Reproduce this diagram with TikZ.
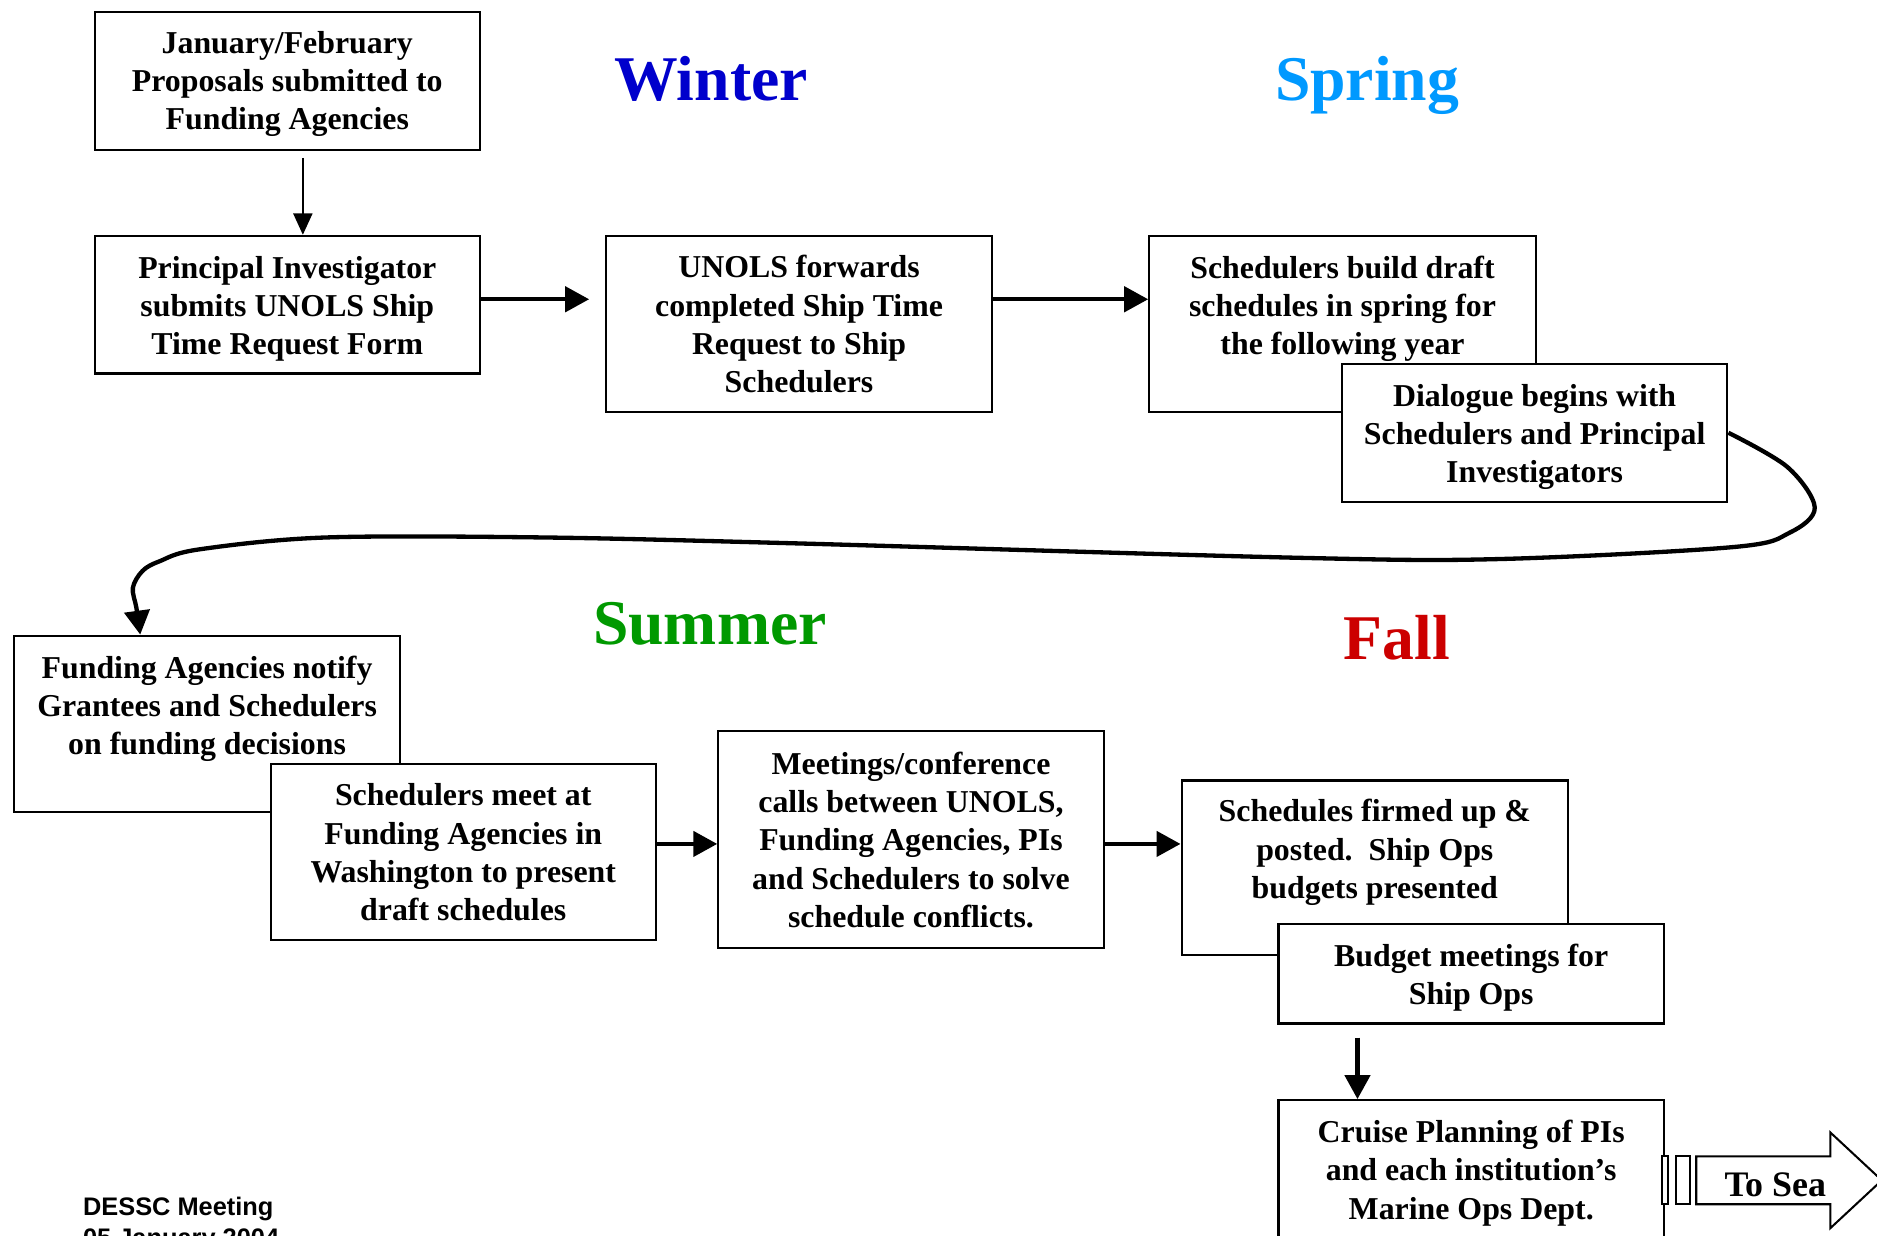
\documentclass[tikz,border=0pt]{standalone}
\usepackage{fontspec}
\setmainfont{Liberation Serif}
\newfontfamily\arialfont{Liberation Sans}
\usetikzlibrary{fit,arrows.meta,calc}
\definecolor{wintercol}{RGB}{0,0,204}
\definecolor{springcol}{RGB}{0,153,255}
\definecolor{summercol}{RGB}{0,153,0}
\definecolor{fallcol}{RGB}{204,0,0}
\begin{document}
\begin{tikzpicture}[x=0.5pt,y=-0.5pt,
  boxnode/.style={draw, line width=0.85pt, fill=white, inner sep=0pt},
  txt/.style={align=center, font=\fontsize{13.3}{16}\selectfont\bfseries, inner sep=0pt},
  season/.style={font=\fontsize{26.6}{30}\selectfont\bfseries, inner sep=0pt, anchor=base},
  flow/.style={line width=1.7pt, -{Triangle[length=10pt,width=10.5pt]}},
  thinflow/.style={line width=0.85pt, -{Triangle[length=9pt,width=8pt]}}]
\useasboundingbox (0,0) rectangle (1568,1031.7);
\fill[white] (0,0) rectangle (1568,1031.7);

% seasons
\node[season, text=wintercol] (winter) at (594,84) {Winter};
\node[season, text=springcol] (spring) at (1142,84) {Spring};
\node[season, text=summercol] (summer) at (593,538) {Summer};
\node[season, text=fallcol] (fall) at (1167,551) {Fall};

% boxes
\node[boxnode, fit={(79,10) (401,125)}] (b1) {};
\node[txt] (t1) at (240,70) {January/February\\Proposals submitted to\\Funding Agencies};
\node[boxnode, fit={(79,197) (401,312)}] (b2) {};
\node[txt] (t2) at (240,258) {Principal Investigator\\submits UNOLS Ship\\Time Request Form};
\node[boxnode, fit={(506,197) (829,344)}] (b3) {};
\node[txt] (t3) at (667.5,271) {UNOLS forwards\\completed Ship Time\\Request to Ship\\Schedulers};
\node[boxnode, fit={(960,197) (1283,344)}] (b4) {};
\node[txt] (t4) at (1121.5,258) {Schedulers build draft\\schedules in spring for\\the following year};
\node[boxnode, fit={(1121,304) (1443,419)}] (b5) {};
\node[txt] (t5) at (1282,365) {Dialogue begins with\\Schedulers and Principal\\Investigators};

\node[boxnode, fit={(12,531) (334,678)}] (b6) {};
\node[txt] (t6) at (173,592) {Funding Agencies notify\\Grantees and Schedulers\\on funding decisions};
\node[boxnode, fit={(226,638) (548,785)}] (b7) {};
\node[txt] (t7) at (387,712) {Schedulers meet at\\Funding Agencies in\\Washington to present\\draft schedules};
\node[boxnode, fit={(600,611) (922,792)}] (b8) {};
\node[txt] (t8) at (761,701.5) {Meetings/conference\\calls between UNOLS,\\Funding Agencies, PIs\\and Schedulers to solve\\schedule conflicts.};
\node[boxnode, fit={(987,652) (1310,798)}] (b9) {};
\node[txt] (t9) at (1148.5,712) {Schedules firmed up \&\\posted.\ \ Ship Ops\\budgets presented};
\node[boxnode, fit={(1068,772) (1390,855)}] (b10) {};
\node[txt] (t10) at (1229,817) {Budget meetings for\\Ship Ops};
\node[boxnode, fit={(1068,919) (1390,1060)}] (b11) {};
\node[txt] (t11) at (1229,980) {Cruise Planning of PIs\\and each institution’s\\Marine Ops Dept.};

% connectors
\draw[thinflow, shorten <=3pt] ([xshift=6.5pt]b1.south) -- ([xshift=6.5pt]b1.south |- b2.north);
\draw[flow, shorten >=6.5pt] ([yshift=2.25pt]b2.east) -- ([yshift=2.25pt]b2.east -| b3.west);
\draw[flow] ([yshift=10.25pt]b3.east) -- ([yshift=10.25pt]b3.east -| b4.west);
\coordinate (c6) at ($(b6.north west)+(106,0)$);
\draw[flow, line width=1.8pt] plot[smooth, tension=0.55] coordinates {(b5.east) (1493,390) (1516,424) (1495,445) (1448,457) (1253,467) (1086,466) (668,454) (455,449) (272,449) (166,459) (133,469) (119,477) (111,491) (114,508) (c6)};
\draw[flow] ([yshift=3.25pt]b7.east) -- ([yshift=3.25pt]b7.east -| b8.west);
\draw[flow] ([yshift=-1.75pt]b8.east) -- ([yshift=-1.75pt]b8.east -| b9.west);
\draw[flow, shorten <=5.5pt] ([xshift=-47.5pt]b10.south) -- ([xshift=-47.5pt]b10.south |- b11.north);

% To Sea block arrow
\draw[line width=0.85pt, fill=white] (1388,966) rectangle (1393,1006);
\draw[line width=0.85pt, fill=white] (1400,966) rectangle (1412,1006);
\draw[line width=0.85pt, fill=white] (1417,966) -- (1529,966) -- (1529,946) -- (1572,986) -- (1529,1026) -- (1529,1006) -- (1417,1006) -- cycle;
\node[font=\fontsize{15}{18}\selectfont\bfseries, inner sep=0pt] (tosea) at (1483,990) {To Sea};

% footer
\node[font=\arialfont\fontsize{10.6}{13}\selectfont\bfseries, anchor=base west, align=left, inner sep=0pt] (footer) at (69,1041) {DESSC Meeting\\05 January 2004};
\end{tikzpicture}
\end{document}
